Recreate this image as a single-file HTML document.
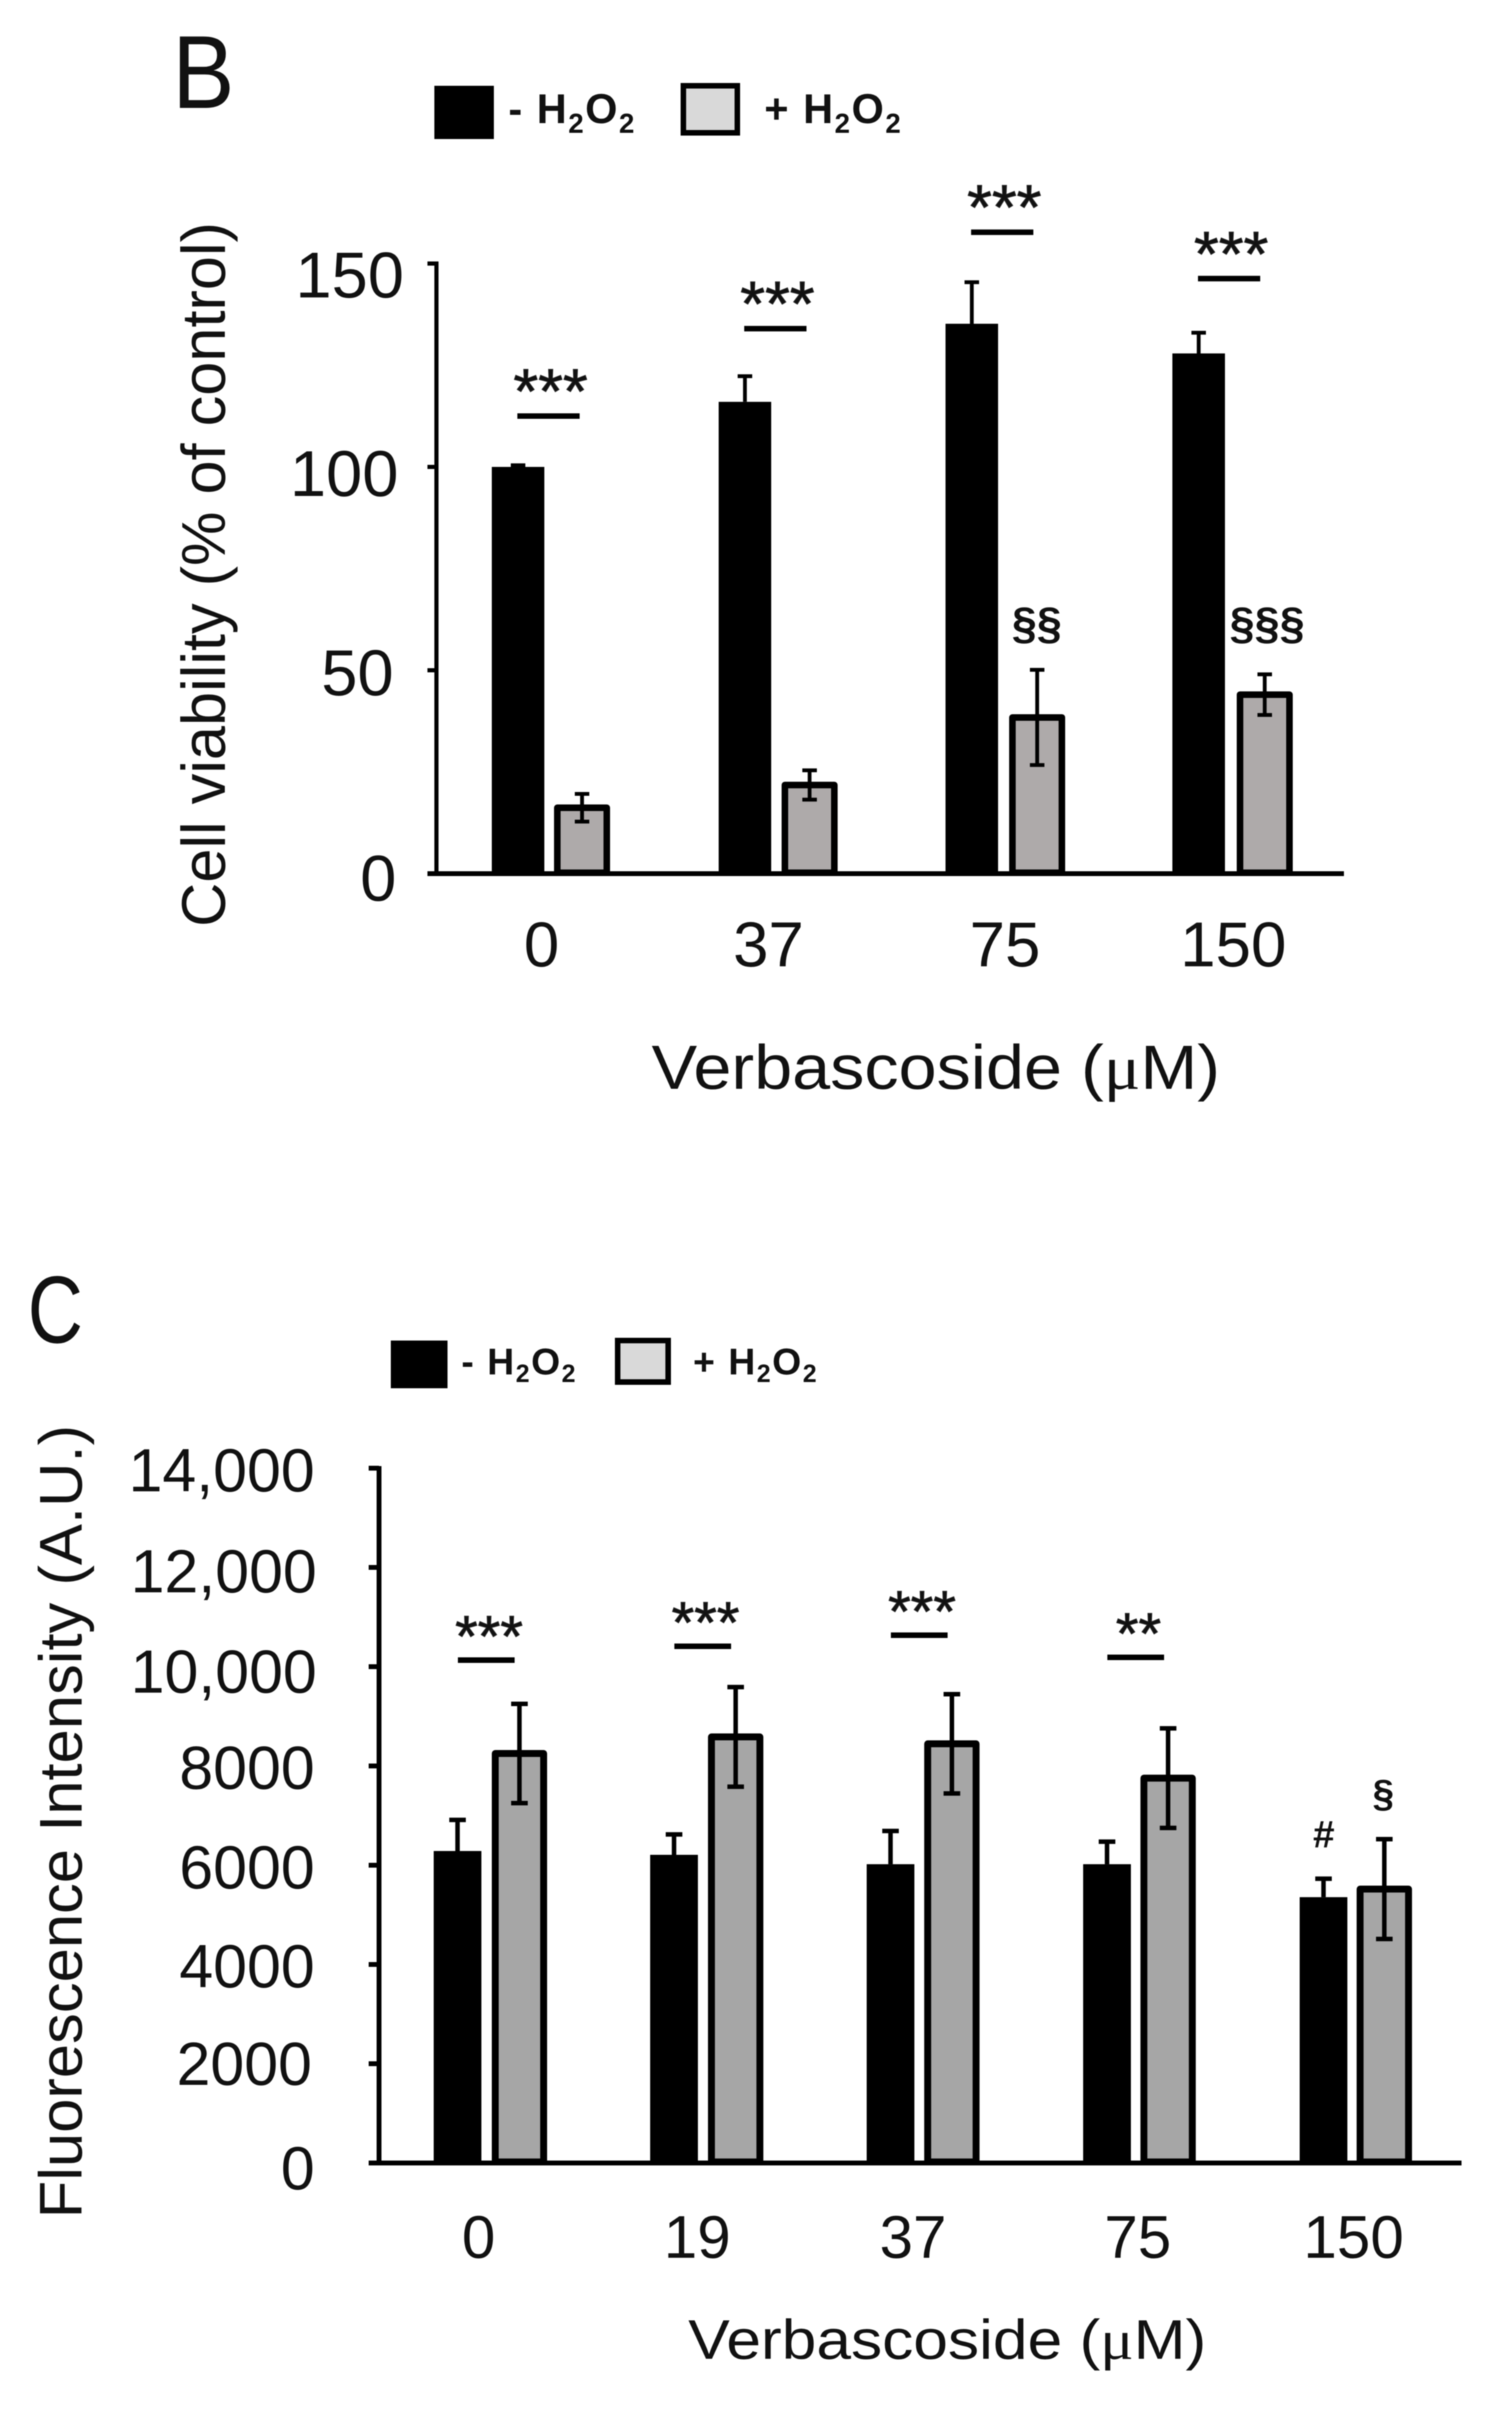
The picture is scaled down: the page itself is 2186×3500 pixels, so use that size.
<!DOCTYPE html>
<html>
<head>
<meta charset="utf-8">
<title>Cell viability and fluorescence intensity charts</title>
<style>
  html, body { margin: 0; padding: 0; background: #fff; }
  svg { display: block; filter: blur(0.7px); }
  text { font-family: "Liberation Sans", sans-serif; fill: #111; }
  .legend-label { font-weight: bold; letter-spacing: 2.2px; }
</style>
</head>
<body>
<svg id="figure" xmlns="http://www.w3.org/2000/svg" width="2186" height="3500" viewBox="0 0 2186 3500">
  <rect x="0" y="0" width="2186" height="3500" fill="#fff"/>

  <!-- Panel B -->
  <text x="249" y="156" font-size="150" textLength="90" lengthAdjust="spacingAndGlyphs">B</text>
  <g>
    <rect x="628" y="124" width="86" height="77" fill="#000"/>
    <text class="legend-label" x="735" y="178" font-size="60">- H<tspan font-size="40" dy="14">2</tspan><tspan dy="-14">O</tspan><tspan font-size="40" dy="14">2</tspan></text>
    <rect x="988" y="124" width="78" height="68" fill="#d9d9d9" stroke="#000" stroke-width="8"/>
    <text class="legend-label" x="1105" y="178" font-size="60">+ H<tspan font-size="40" dy="14">2</tspan><tspan dy="-14">O</tspan><tspan font-size="40" dy="14">2</tspan></text>
  </g>
  <text transform="translate(325,1340) rotate(-90)" font-size="89" textLength="1019" lengthAdjust="spacingAndGlyphs">Cell viability (% of control)</text>
  <g font-size="94" text-anchor="end">
    <text x="584" y="430">150</text>
    <text x="576" y="717">100</text>
    <text x="569" y="1005">50</text>
    <text x="573" y="1302">0</text>
  </g>
  <g font-size="92" text-anchor="middle">
    <text x="783" y="1397">0</text>
    <text x="1111" y="1397">37</text>
    <text x="1453" y="1397">75</text>
    <text x="1783" y="1397">150</text>
  </g>
  <text x="942" y="1574" font-size="90" textLength="822" lengthAdjust="spacingAndGlyphs">Verbascoside (<tspan font-family="Liberation Serif">μ</tspan>M)</text>
  <text x="1499" y="923" font-size="65" font-weight="bold" text-anchor="middle">§§</text>
  <text x="1832" y="923" font-size="65" font-weight="bold" text-anchor="middle">§§§</text>
  <g id="plot-b"></g>

  <!-- Panel C -->
  <text x="40" y="1941" font-size="138" textLength="80" lengthAdjust="spacingAndGlyphs">C</text>
  <g>
    <rect x="565" y="1938" width="82" height="69" fill="#000"/>
    <text class="legend-label" x="667" y="1987" font-size="54">- H<tspan font-size="36" dy="11">2</tspan><tspan dy="-11">O</tspan><tspan font-size="36" dy="11">2</tspan></text>
    <rect x="893" y="1938" width="73" height="60" fill="#d9d9d9" stroke="#000" stroke-width="8"/>
    <text class="legend-label" x="1002" y="1987" font-size="54">+ H<tspan font-size="36" dy="11">2</tspan><tspan dy="-11">O</tspan><tspan font-size="36" dy="11">2</tspan></text>
  </g>
  <text transform="translate(118,3207) rotate(-90)" font-size="87" textLength="1147" lengthAdjust="spacingAndGlyphs">Fluorescence Intensity (A.U.)</text>
  <g font-size="88" text-anchor="end">
    <text x="455" y="2156">14,000</text>
    <text x="458" y="2302">12,000</text>
    <text x="458" y="2447">10,000</text>
    <text x="455" y="2586">8000</text>
    <text x="455" y="2730">6000</text>
    <text x="455" y="2873">4000</text>
    <text x="451" y="3014">2000</text>
    <text x="455" y="3165">0</text>
  </g>
  <g font-size="87" text-anchor="middle">
    <text x="692" y="3264">0</text>
    <text x="1008" y="3264">19</text>
    <text x="1320" y="3264">37</text>
    <text x="1645" y="3264">75</text>
    <text x="1957" y="3264">150</text>
  </g>
  <text x="995" y="3410" font-size="81" textLength="749" lengthAdjust="spacingAndGlyphs">Verbascoside (<tspan font-family="Liberation Serif">μ</tspan>M)</text>
  <text x="1914" y="2671" font-size="56" font-weight="bold" text-anchor="middle">#</text>
  <text x="2000" y="2612" font-size="56" font-weight="bold" text-anchor="middle">§</text>
  <g id="plot-c"></g>
</svg>

<script>
// Panel B data (cell viability, % of control)
const categoriesB = ["0", "37", "75", "150"];
const ticksB = [0, 50, 100, 150];
const minusValuesB = [100, 116, 135.2, 127.9];
const minusErrorsB = [0.4, 6.3, 10.2, 5.1];
const plusValuesB = [16.2, 21.8, 38.4, 44];
const plusErrorsB = [3.4, 3.6, 11.7, 5];
const bracketLevelsB = [112.5, 134, 157.7, 146.3];
const starLabelsB = ["***", "***", "***", "***"];

// Panel C data (fluorescence intensity, A.U.)
const categoriesC = ["0", "19", "37", "75", "150"];
const ticksC = [0, 2000, 4000, 6000, 8000, 10000, 12000, 14000];
const minusValuesC = [6286, 6209, 6020, 6020, 5356];
const minusErrorsC = [627, 411, 670, 453, 372];
const plusValuesC = [8251, 8585, 8446, 7754, 5519];
const plusErrorsC = [1000, 1003, 1000, 1003, 1005];
const bracketLevelsC = [10132, 10411, 10634, 10188];
const starLabelsC = ["***", "***", "***", "**"];

const NS = "http://www.w3.org/2000/svg";
function mk(parent, tag, attrs, text) {
  const node = document.createElementNS(NS, tag);
  for (const key in attrs) node.setAttribute(key, attrs[key]);
  if (text !== undefined) node.textContent = text;
  parent.appendChild(node);
  return node;
}

function drawPanel(cfg) {
  const g = document.getElementById(cfg.id);
  const y = cfg.y;

  // y axis
  const axisY = mk(g, "line", { x1: cfg.axisX, x2: cfg.axisX, y1: y(cfg.ticks[cfg.ticks.length - 1]) - 3, y2: y(0), stroke: "#000", "stroke-width": cfg.axisW });
  
  

  cfg.ticks.forEach(function (t) {
    const tick = mk(g, "line", { x1: cfg.axisLeft, x2: cfg.axisX, y1: y(t), y2: y(t), stroke: "#000", "stroke-width": cfg.axisW });
    
    
  });

  cfg.categories.forEach(function (cat, i) {
    const bx = cfg.minusX(i);
    const barMinus = mk(g, "rect", { x: bx, y: y(cfg.minus[i]), width: cfg.minusW, height: y(0) - y(cfg.minus[i]), fill: "#000" });
    
    

    const mid1 = bx + cfg.minusW / 2;
    const errMinus = mk(g, "path", {
      d: "M" + mid1 + " " + y(cfg.minus[i]) + "V" + y(cfg.minus[i] + cfg.minusErr[i]) +
         "M" + (mid1 - cfg.capW / 2) + " " + y(cfg.minus[i] + cfg.minusErr[i]) + "h" + cfg.capW,
      stroke: "#000", "stroke-width": cfg.errW, fill: "none"
    });
    
    

    const gx = cfg.plusX(i);
    const sw = cfg.plusStroke;
    const barPlus = mk(g, "rect", {
      x: gx + sw / 2, y: y(cfg.plus[i]), width: cfg.plusW - sw, height: y(0) - y(cfg.plus[i]) - sw / 2 + 3.5,
      fill: cfg.plusFill, stroke: "#000", "stroke-width": sw, "stroke-linejoin": "round"
    });
    
    

    const mid2 = gx + cfg.plusW / 2;
    const hi = y(cfg.plus[i] + cfg.plusErr[i]);
    const lo = y(cfg.plus[i] - cfg.plusErr[i]);
    const errPlus = mk(g, "path", {
      d: "M" + mid2 + " " + hi + "V" + lo +
         "M" + (mid2 - cfg.capW / 2) + " " + hi + "h" + cfg.capW +
         "M" + (mid2 - cfg.capW / 2) + " " + lo + "h" + cfg.capW,
      stroke: "#000", "stroke-width": cfg.errW, fill: "none"
    });
    
    
  });

  cfg.brackets.forEach(function (level, i) {
    const left = cfg.minusX(i) + cfg.bracketOffset;
    const rule = mk(g, "line", { x1: left, x2: left + cfg.bracketW, y1: y(level), y2: y(level), stroke: "#000", "stroke-width": cfg.bracketStroke });
    
    

    const stars = mk(g, "text", {
      x: cfg.minusX(i) + cfg.starOffset,
      y: y(level) - cfg.starGap + cfg.starSize * cfg.starShift,
      "font-size": cfg.starSize, "text-anchor": "middle",
      stroke: "#222", "stroke-width": 1.2
    }, cfg.stars[i]);
    
    
  });

  // x axis on top of the bars
  const axisX = mk(g, "line", { x1: cfg.axisLeft, x2: cfg.axisRight, y1: y(0), y2: y(0), stroke: "#000", "stroke-width": cfg.baseW });
  
  
}

drawPanel({
  id: "plot-b",
  y: function (v) { return 1263 - v * 5.88; },
  minusX: function (i) { return 711 + i * 328; },
  plusX: function (i) { return 801 + i * 329; },
  categories: categoriesB, ticks: ticksB,
  minus: minusValuesB, minusErr: minusErrorsB, plus: plusValuesB, plusErr: plusErrorsB,
  brackets: bracketLevelsB, stars: starLabelsB,
  axisX: 631, axisLeft: 618, axisRight: 1943, axisW: 6, baseW: 7,
  minusW: 76, plusW: 81, plusStroke: 9.5, plusFill: "#aeaaaa",
  capW: 21, errW: 5.5,
  bracketOffset: 37, bracketW: 90, bracketStroke: 8,
  starOffset: 85, starGap: 50, starSize: 92, starShift: 0.5
});

drawPanel({
  id: "plot-c",
  y: function (v) { return 3127 - v * 0.07175; },
  minusX: function (i) { return 627 + i * 313; },
  plusX: function (i) { return 711 + i * 312.6; },
  categories: categoriesC, ticks: ticksC,
  minus: minusValuesC, minusErr: minusErrorsC, plus: plusValuesC, plusErr: plusErrorsC,
  brackets: bracketLevelsC, stars: starLabelsC,
  axisX: 548, axisLeft: 533, axisRight: 2113, axisW: 7, baseW: 7,
  minusW: 69, plusW: 80, plusStroke: 10, plusFill: "#a6a6a6",
  capW: 24, errW: 6.5,
  bracketOffset: 35, bracketW: 82, bracketStroke: 8,
  starOffset: 80, starGap: 46, starSize: 84, starShift: 0.48
});
</script>
</body>
</html>
